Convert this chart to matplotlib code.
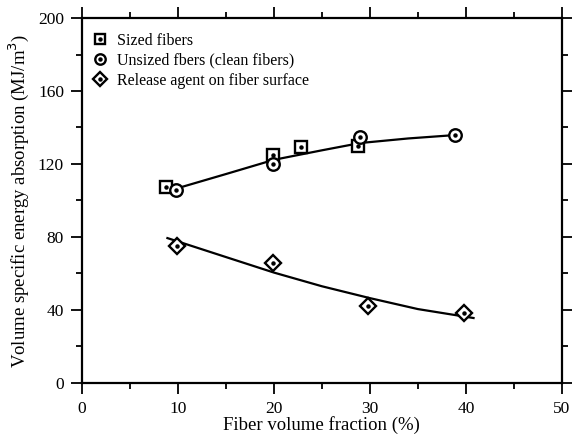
import matplotlib
matplotlib.use("Agg")
import matplotlib.pyplot as plt
from matplotlib.legend_handler import HandlerTuple
from matplotlib.lines import Line2D
from matplotlib.ticker import MultipleLocator

plt.rcParams['font.family'] = ['Liberation Serif', 'DejaVu Serif']

# data
sized_x = [8.8, 19.9, 22.8, 28.8]
sized_y = [107.4, 124.9, 129.3, 129.9]
unsized_x = [9.8, 19.9, 29.0, 38.9]
unsized_y = [105.8, 120.0, 134.8, 135.9]
release_x = [9.9, 19.9, 29.8, 39.8]
release_y = [75.0, 65.8, 42.2, 38.4]

# hand-drawn fit curves (knots)
fit_up_x = [9.8, 15.0, 20.0, 25.0, 29.0, 34.0, 39.0]
fit_up_y = [106.5, 114.5, 122.3, 127.5, 131.5, 134.0, 135.9]
fit_lo_x = [8.9, 15.0, 20.0, 25.0, 30.0, 35.0, 40.8]
fit_lo_y = [79.4, 69.0, 60.5, 53.0, 46.5, 40.5, 35.6]

labels = ['Sized fibers', 'Unsized fbers (clean fibers)', 'Release agent on fiber surface']
xticks = [0, 10, 20, 30, 40, 50]
yticks = [0, 40, 80, 120, 160, 200]

fig = plt.figure(figsize=(5.72, 4.36), dpi=100)
ax = fig.add_axes([0.1434, 0.1216, 0.8388, 0.8371])

ax.plot(fit_up_x, fit_up_y, color='black', lw=1.6)
ax.plot(fit_lo_x, fit_lo_y, color='black', lw=1.6)

mk = dict(linestyle='none', markerfacecolor='white', markeredgecolor='black', markeredgewidth=1.7)
dot = dict(linestyle='none', marker='o', markersize=2.2, color='black')
ax.plot(sized_x, sized_y, marker='s', markersize=9, **mk)
ax.plot(sized_x, sized_y, **dot)
ax.plot(unsized_x, unsized_y, marker='o', markersize=9, **mk)
ax.plot(unsized_x, unsized_y, **dot)
ax.plot(release_x, release_y, marker='D', markersize=8.5, **mk)
ax.plot(release_x, release_y, **dot)

handles = []
for m, ms in [('s', 7.5), ('o', 7.5), ('D', 7)]:
    handles.append((Line2D([], [], marker=m, markersize=ms, **mk), Line2D([], [], **dot)))

ax.set_xlim(0, 50)
ax.set_ylim(0, 200)
ax.set_xticks(xticks)
ax.set_yticks(yticks)
ax.xaxis.set_minor_locator(MultipleLocator(5))
ax.yaxis.set_minor_locator(MultipleLocator(20))
ax.tick_params(which='major', direction='out', length=8, width=1.3, labelsize=12.5,
               top=True, right=True, pad=5)
ax.tick_params(which='minor', direction='out', length=4, width=1.3, top=True, right=True)
ax.tick_params(axis='x', which='major', pad=5)
for s in ax.spines.values():
    s.set_linewidth(1.6)

ax.set_xlabel('Fiber volume fraction (%)', fontsize=13.5, labelpad=-1)
ax.set_ylabel('Volume specific energy absorption (MJ/m$^3$)', fontsize=13.5, labelpad=5)

leg = ax.legend(handles, labels,
                handler_map={tuple: HandlerTuple(ndivide=1, pad=0)},
                loc='upper left', bbox_to_anchor=(-0.003, 0.99), frameon=False,
                fontsize=11.5, handlelength=1.0, handletextpad=0.6, labelspacing=0.25,
                borderaxespad=0.3)

fig.savefig('out.png', dpi=100)
